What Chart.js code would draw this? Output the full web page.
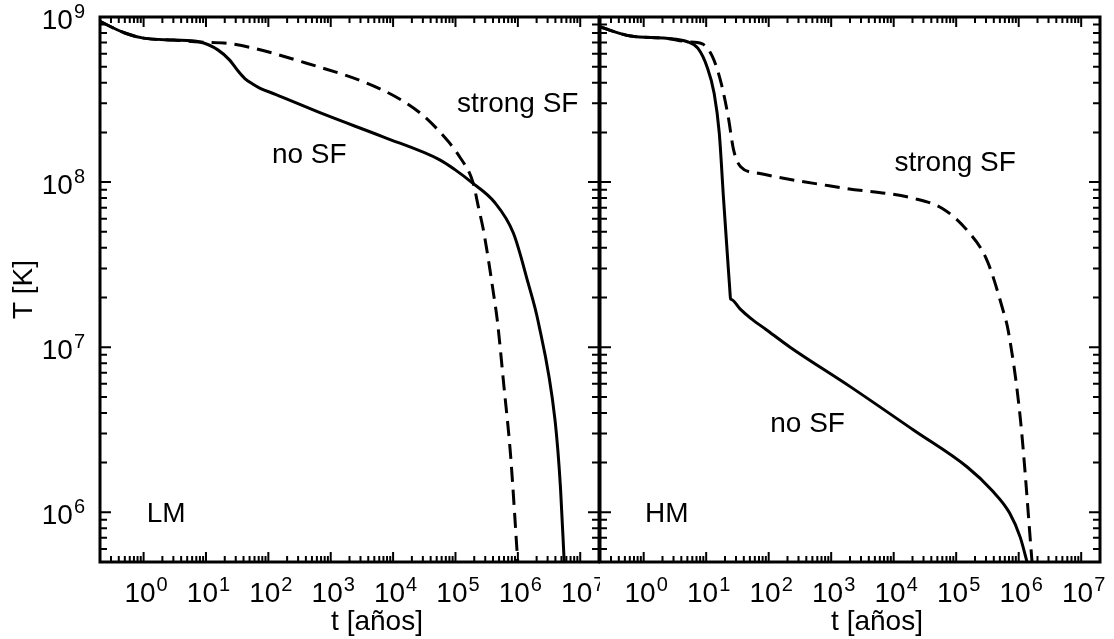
<!DOCTYPE html>
<html>
<head>
<meta charset="utf-8">
<script src="https://cdn.jsdelivr.net/npm/chart.js@4.4.0/dist/chart.umd.min.js"></script>
<style>
  html, body { margin: 0; padding: 0; background: #fff; }
  #wrap { position: relative; width: 1114px; height: 639px; }
  canvas { position: absolute; top: 0; }
  #c1 { left: 0; }
  #c2 { left: 500px; }
</style>
</head>
<body>
<div id="wrap">
  <canvas id="c1" width="600" height="639"></canvas>
  <canvas id="c2" width="614" height="639"></canvas>
</div>
<script>
// eixos (anos, K)
const tMin = 0.2, tMax = 2e7;
const TMin = 5e5, TMax = 1e9;
const decadasX = [0, 1, 2, 3, 4, 5, 6, 7];
const decadasY = [6, 7, 8, 9];

// LM, sem formação estelar
const tLM_noSF = [0.2, 0.5, 1, 3, 8, 15.7, 24, 31.8, 42, 56, 74, 130, 830, 6900, 5.7e4, 9.8e4, 1.8e5, 4.2e5, 8.5e5, 1.46e6, 2.1e6, 3.95e6, 4.83e6, 5.55e6];
const TLM_noSF = [9.4e8, 8.0e8, 7.45e8, 7.25e8, 7.05e8, 6.3e8, 5.48e8, 4.77e8, 4.24e8, 3.93e8, 3.7e8, 3.4e8, 2.55e8, 1.88e8, 1.36e8, 1.19e8, 1.0e8, 7.57e7, 4.9e7, 2.45e7, 1.45e7, 3.6e6, 1.4e6, 4.9e5];
// LM, strong SF
const tLM_SF = [0.2, 0.5, 1, 3, 8, 24, 410, 6900, 2.8e4, 5.7e4, 1.17e5, 1.9e5, 2.33e5, 2.87e5, 4.22e5, 4.68e5, 6.0e5, 7.6e5, 1.0e6];
const TLM_SF = [9.4e8, 8.0e8, 7.45e8, 7.25e8, 7.05e8, 6.9e8, 5.25e8, 3.6e8, 2.6e8, 2.0e8, 1.42e8, 1.0e8, 7.08e7, 4.89e7, 1.93e7, 1.46e7, 5.73e6, 2.28e6, 4.9e5];
// HM, sem formação estelar (quebra brusca em t ~ 25 anos)
const tHM_noSF = [0.2, 0.62, 2.3, 5, 7.4, 10.3, 13.4, 16.2, 19, 22.5, 23.8, 24.5, 25.7, 35.1, 52.3, 88.3, 220, 2040, 2.1e4, 1.5e5, 3.72e5, 7.16e5, 1.06e6, 1.38e6];
const THM_noSF = [8.7e8, 7.67e8, 7.43e8, 7.08e8, 6.45e8, 5e8, 3.45e8, 1.98e8, 7.8e7, 3.07e7, 2.27e7, 1.97e7, 1.94e7, 1.70e7, 1.49e7, 1.29e7, 1.0e7, 5.75e6, 3.14e6, 1.88e6, 1.36e6, 9.9e5, 7.05e5, 4.9e5];
// HM, strong SF
const tHM_SF = [0.2, 0.62, 2.3, 5, 8.5, 12.6, 17.4, 22.5, 27.5, 35.6, 69, 1580, 2.1e4, 6.1e4, 1.5e5, 3.1e5, 5.6e5, 6.8e5, 1.07e6, 1.65e6];
const THM_SF = [8.7e8, 7.67e8, 7.43e8, 7.08e8, 6.9e8, 5.75e8, 3.96e8, 2.49e8, 1.56e8, 1.24e8, 1.13e8, 9.2e7, 7.97e7, 6.9e7, 5.1e7, 3.37e7, 1.68e7, 1.26e7, 3.6e6, 4.8e5];

// rótulos dentro dos painéis (posição em t, T; texto começa à esquerda)
const rotulosLM = [["no SF", 114, 1.3e8], ["strong SF", 1.06e5, 2.65e8], ["LM", 1.12, 8.7e5]];
const rotulosHM = [["no SF", 106, 3.07e6], ["strong SF", 1.03e4, 1.16e8], ["HM", 1.05, 8.7e5]];

const fonte = "'Liberation Sans', Arial, sans-serif";

function pontos(ts, Ts) {
  return ts.map((t, i) => ({ x: t, y: Ts[i] }));
}

function potencia(ctx, exp, x, y, alinhar) {
  // desenha 10^exp com expoente elevado
  ctx.font = "28px " + fonte;
  const w1 = ctx.measureText("10").width;
  ctx.font = "20px " + fonte;
  const w2 = ctx.measureText(String(exp)).width;
  let x0 = alinhar === "right" ? x - w1 - w2 : x - (w1 + w2) / 2;
  ctx.textAlign = "left";
  ctx.font = "28px " + fonte;
  ctx.fillText("10", x0, y);
  ctx.font = "20px " + fonte;
  ctx.fillText(String(exp), x0 + w1 + 1, y - 11);
}

function molduraPlugin(rotulos, eixoY) {
  return {
    id: "moldura",
    afterDraw(chart) {
      const ctx = chart.ctx, a = chart.chartArea;
      const sx = chart.scales.x, sy = chart.scales.y;
      ctx.save();
      ctx.strokeStyle = "#000";
      ctx.fillStyle = "#000";

      // marcas no eixo x (baixo e cima, para dentro)
      ctx.lineWidth = 2;
      ctx.beginPath();
      for (let e = -1; e <= 7; e++) {
        for (let m = 1; m <= 9; m++) {
          const v = m * Math.pow(10, e);
          if (v < tMin || v > tMax) continue;
          const px = sx.getPixelForValue(v);
          const len = m === 1 ? 10 : 6;
          ctx.moveTo(px, a.bottom); ctx.lineTo(px, a.bottom - len);
          ctx.moveTo(px, a.top); ctx.lineTo(px, a.top + len);
        }
      }
      // marcas no eixo y (esquerda e direita)
      for (let e = 5; e <= 8; e++) {
        for (let m = 1; m <= 9; m++) {
          const v = m * Math.pow(10, e);
          if (v < TMin || v > TMax) continue;
          const py = sy.getPixelForValue(v);
          const len = m === 1 ? 11 : 7;
          ctx.moveTo(a.left, py); ctx.lineTo(a.left + len, py);
          ctx.moveTo(a.right, py); ctx.lineTo(a.right - len, py);
        }
      }
      ctx.stroke();

      ctx.lineWidth = 3;
      ctx.strokeRect(a.left, a.top, a.right - a.left, a.bottom - a.top);

      // rótulos dos ticks
      ctx.textBaseline = "alphabetic";
      decadasX.forEach(e => potencia(ctx, e, sx.getPixelForValue(Math.pow(10, e)) + 2, 602, "center"));
      if (eixoY) {
        decadasY.forEach(e => potencia(ctx, e, 84, sy.getPixelForValue(Math.pow(10, e)) + 12, "right"));
        ctx.save();
        ctx.font = "28px " + fonte;
        ctx.translate(32, (a.top + a.bottom) / 2);
        ctx.rotate(-Math.PI / 2);
        ctx.textAlign = "center";
        ctx.fillText("T [K]", 0, 0);
        ctx.restore();
      }

      ctx.font = "28px " + fonte;
      ctx.textAlign = "center";
      ctx.fillText("t [años]", a.left + 277, 630);

      ctx.textAlign = "left";
      rotulos.forEach(([txt, t, T]) => ctx.fillText(txt, sx.getPixelForValue(t), sy.getPixelForValue(T)));
      ctx.restore();
    }
  };
}

function criarPainel(id, dadosSolido, dadosTracejado, rotulos, eixoY, padding) {
  const ctx = document.getElementById(id).getContext("2d");
  return new Chart(ctx, {
    type: "line",
    data: {
      datasets: [
        { label: "no SF", data: dadosSolido, borderColor: "#000", borderWidth: 3, pointRadius: 0, cubicInterpolationMode: "monotone" },
        { label: "strong SF", data: dadosTracejado, borderColor: "#000", borderWidth: 3, borderDash: [15, 8], pointRadius: 0, cubicInterpolationMode: "monotone" }
      ]
    },
    options: {
      responsive: false,
      animation: false,
      devicePixelRatio: 1,
      layout: { padding },
      plugins: { legend: { display: false }, tooltip: { enabled: false } },
      scales: {
        x: { type: "logarithmic", min: tMin, max: tMax, display: false },
        y: { type: "logarithmic", min: TMin, max: TMax, display: false }
      }
    },
    plugins: [molduraPlugin(rotulos, eixoY)]
  });
}

criarPainel("c1", pontos(tLM_noSF, TLM_noSF), pontos(tLM_SF, TLM_SF), rotulosLM, true,
  { left: 100, right: 1, top: 17, bottom: 77 });
criarPainel("c2", pontos(tHM_noSF, THM_noSF), pontos(tHM_SF, THM_SF), rotulosHM, false,
  { left: 100, right: 14, top: 17, bottom: 77 });
</script>
</body>
</html>
